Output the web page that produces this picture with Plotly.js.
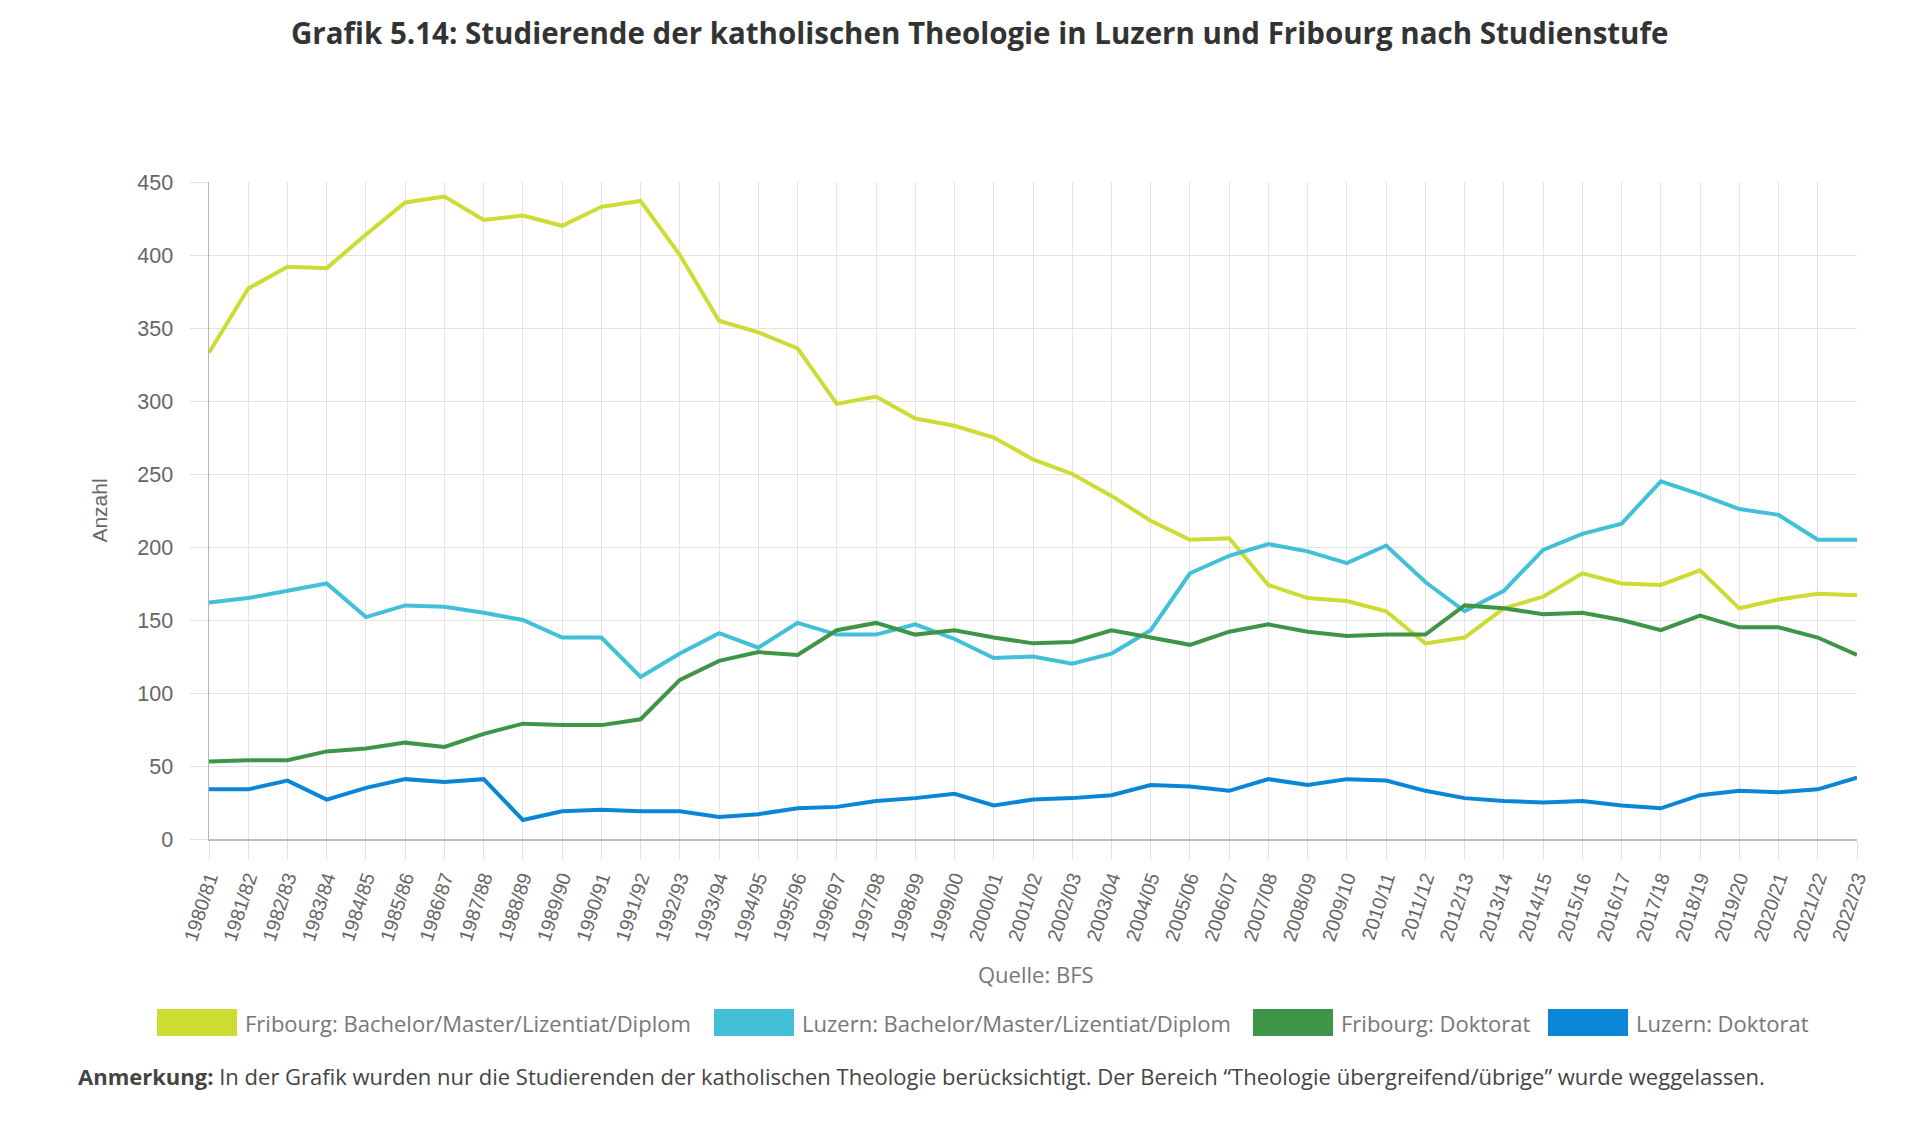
<!DOCTYPE html>
<html>
<head>
<meta charset="utf-8">
<script src="https://cdn.plot.ly/plotly-3.0.1.min.js"></script>
<style>
  html, body { margin: 0; padding: 0; background: #fff; }
  #chart { width: 1920px; height: 1142px; }
</style>
</head>
<body>
<div id="chart"></div>
<script>
var jahre = ['1980/81', '1981/82', '1982/83', '1983/84', '1984/85', '1985/86', '1986/87', '1987/88',
    '1988/89', '1989/90', '1990/91', '1991/92', '1992/93', '1993/94', '1994/95', '1995/96',
    '1996/97', '1997/98', '1998/99', '1999/00', '2000/01', '2001/02', '2002/03', '2003/04',
    '2004/05', '2005/06', '2006/07', '2007/08', '2008/09', '2009/10', '2010/11', '2011/12',
    '2012/13', '2013/14', '2014/15', '2015/16', '2016/17', '2017/18', '2018/19', '2019/20',
    '2020/21', '2021/22', '2022/23'];

var fribourgBMLD = [333, 377, 392, 391, 414, 436, 440, 424, 427, 420, 433, 437, 400, 355, 347, 336,
    298, 303, 288, 283, 275, 260, 250, 235, 218, 205, 206, 174, 165, 163, 156, 134,
    138, 158, 166, 182, 175, 174, 184, 158, 164, 168, 167];

var luzernBMLD = [162, 165, 170, 175, 152, 160, 159, 155, 150, 138, 138, 111, 127, 141, 131, 148,
    140, 140, 147, 137, 124, 125, 120, 127, 143, 182, 194, 202, 197, 189, 201, 176,
    156, 170, 198, 209, 216, 245, 236, 226, 222, 205, 205];

var fribourgDoktorat = [53, 54, 54, 60, 62, 66, 63, 72, 79, 78, 78, 82, 109, 122, 128, 126,
    143, 148, 140, 143, 138, 134, 135, 143, 138, 133, 142, 147, 142, 139, 140, 140,
    160, 158, 154, 155, 150, 143, 153, 145, 145, 138, 126];

var luzernDoktorat = [34, 34, 40, 27, 35, 41, 39, 41, 13, 19, 20, 19, 19, 15, 17, 21,
    22, 26, 28, 31, 23, 27, 28, 30, 37, 36, 33, 41, 37, 41, 40, 33,
    28, 26, 25, 26, 23, 21, 30, 33, 32, 34, 42];

var serien = [
    {name: 'Fribourg: Bachelor/Master/Lizentiat/Diplom', y: fribourgBMLD, farbe: '#cddc33'},
    {name: 'Luzern: Bachelor/Master/Lizentiat/Diplom', y: luzernBMLD, farbe: '#41c0d8'},
    {name: 'Fribourg: Doktorat', y: fribourgDoktorat, farbe: '#3e9548'},
    {name: 'Luzern: Doktorat', y: luzernDoktorat, farbe: '#0a86d6'}
];

// plot area in pixels
var L = 209, R = 1857, T = 182, B = 839;
function px(x) { return (x - L) / (R - L); }
function py(y) { return (B - y) / (B - T); }

var daten = serien.map(function (s) {
    return {
        x: jahre,
        y: s.y,
        name: s.name,
        type: 'scatter',
        mode: 'lines',
        line: {color: s.farbe, width: 4},
        showlegend: false
    };
});

// legend drawn by hand: big swatches like the original
var legendSwatch = [157, 714, 1253, 1548];
var shapes = [];
var annotations = [];
serien.forEach(function (s, i) {
    shapes.push({
        type: 'rect', xref: 'paper', yref: 'paper',
        x0: px(legendSwatch[i]), x1: px(legendSwatch[i] + 80),
        y0: py(1036), y1: py(1009),
        fillcolor: s.farbe, line: {width: 0}
    });
    annotations.push({
        xref: 'paper', yref: 'paper',
        x: px(legendSwatch[i] + 86), y: py(1023),
        xanchor: 'left', yanchor: 'middle', showarrow: false,
        text: s.name,
        font: {family: 'Open Sans', size: 22, color: '#777'}
    });
});

annotations.push({
    xref: 'paper', yref: 'paper', x: px(979), y: py(33),
    xanchor: 'center', yanchor: 'middle', showarrow: false,
    text: '<b>Grafik 5.14: Studierende der katholischen Theologie in Luzern und Fribourg nach Studienstufe</b>',
    font: {family: 'Open Sans', size: 29.5, color: '#333'}
});
annotations.push({
    xref: 'paper', yref: 'paper', x: px(1036), y: py(974),
    xanchor: 'center', yanchor: 'middle', showarrow: false,
    text: 'Quelle: BFS',
    font: {family: 'Open Sans', size: 22, color: '#777'}
});
annotations.push({
    xref: 'paper', yref: 'paper', x: px(76), y: py(1076),
    xanchor: 'left', yanchor: 'middle', showarrow: false,
    text: '<b>Anmerkung:</b> In der Grafik wurden nur die Studierenden der katholischen Theologie berücksichtigt. Der Bereich \u201cTheologie übergreifend/übrige\u201d wurde weggelassen.',
    font: {family: 'Open Sans', size: 22, color: '#444'}
});

var layout = {
    width: 1920,
    height: 1142,
    margin: {l: L, r: 1920 - R, t: T, b: 1142 - B, pad: 0},
    paper_bgcolor: '#fff',
    plot_bgcolor: '#fff',
    showlegend: false,
    xaxis: {
        type: 'category',
        range: [0, jahre.length - 1],
        tickangle: -72,
        ticks: 'outside',
        ticklen: 18,
        tickcolor: '#e0e0e0',
        showgrid: true,
        gridcolor: '#e3e3e3',
        gridwidth: 1,
        showline: true,
        linecolor: '#bdbdbd',
        linewidth: 2,
        zeroline: false,
        tickfont: {family: 'Liberation Sans, Arial', size: 19.5, color: '#666'},
        fixedrange: true
    },
    yaxis: {
        range: [0, 450],
        dtick: 50,
        ticks: 'outside',
        ticklen: 18,
        tickcolor: '#e3e3e3',
        ticklabelstandoff: 12,
        showgrid: true,
        gridcolor: '#e3e3e3',
        gridwidth: 1,
        showline: true,
        linecolor: '#b5b5b5',
        linewidth: 1.5,
        zeroline: false,
        tickfont: {family: 'Liberation Sans, Arial', size: 21.5, color: '#666'},
        title: {text: 'Anzahl', standoff: 24, font: {family: 'Liberation Sans, Arial', size: 21, color: '#666'}},
        fixedrange: true
    },
    shapes: shapes,
    annotations: annotations
};

Plotly.newPlot('chart', daten, layout, {displayModeBar: false, staticPlot: true});
</script>
</body>
</html>
